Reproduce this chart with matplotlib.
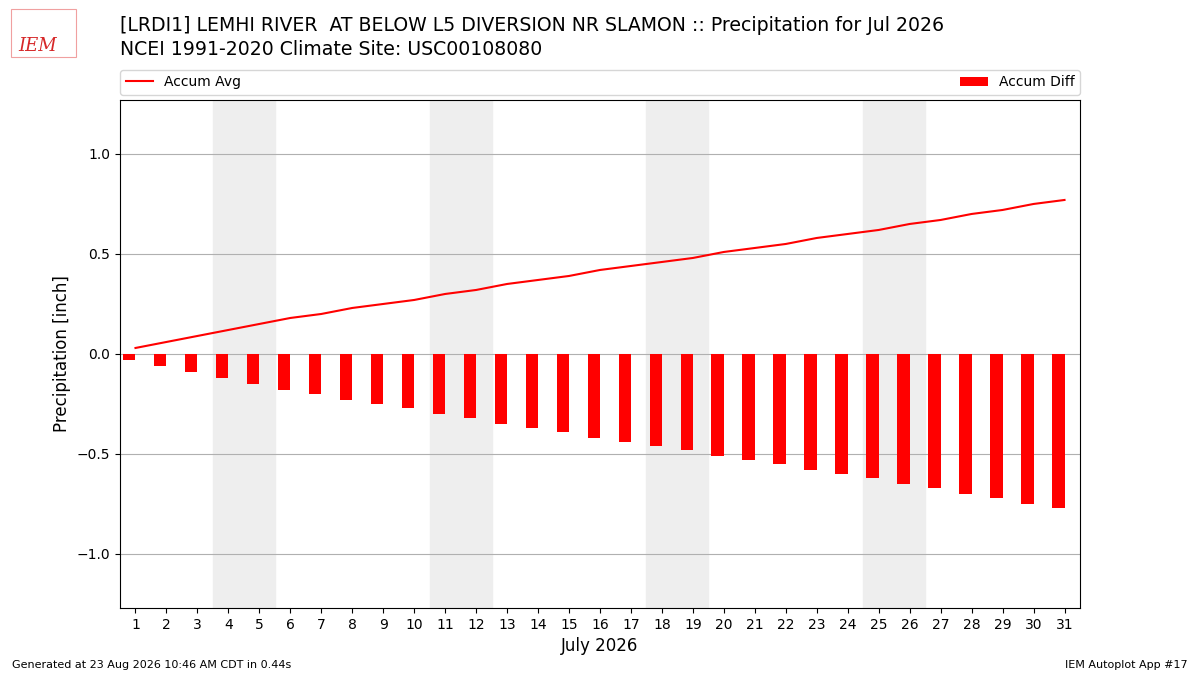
import numpy as np
import matplotlib.pyplot as plt

days = list(range(1, 32))
accum_avg = [0.03, 0.06, 0.09, 0.12, 0.15, 0.18, 0.20, 0.23, 0.25, 0.27,
             0.30, 0.32, 0.35, 0.37, 0.39, 0.42, 0.44, 0.46, 0.48, 0.51,
             0.53, 0.55, 0.58, 0.60, 0.62, 0.65, 0.67, 0.70, 0.72, 0.75, 0.77]
accum_diff = [-v for v in accum_avg]
weekends = [(4, 5), (11, 12), (18, 19), (25, 26)]

fig = plt.figure(figsize=(12, 6.75), dpi=100)
ax = fig.add_axes([0.1, 0.0993, 0.8, 0.7526])

for a, b in weekends:
    ax.axvspan(a - 0.5, b + 0.5, color='#eeeeee', zorder=0)

ax.bar(days, accum_diff, width=-0.4, align='edge', color='r',
       label='Accum Diff', zorder=3)
ax.plot(days, accum_avg, color='r', lw=1.5, label='Accum Avg', zorder=4)

ax.set_xlim(0.5, 31.5)
ax.set_ylim(-1.27, 1.27)
ax.set_xticks(days)
ax.set_yticks([-1.0, -0.5, 0.0, 0.5, 1.0])
ax.grid(axis='y', color='#b0b0b0', lw=0.8, zorder=1)
ax.set_axisbelow(True)
ax.set_xlabel('July 2026', fontsize=12)
ax.set_ylabel('Precipitation [inch]', fontsize=12)
ax.legend(bbox_to_anchor=(0, 1.01, 1, 0.05), loc='lower left', ncol=2,
          mode='expand', borderaxespad=0, fontsize=10)

fig.text(0.1, 0.962, '[LRDI1] LEMHI RIVER  AT BELOW L5 DIVERSION NR SLAMON :: '
         'Precipitation for Jul 2026', fontsize=13.6, va='center')
fig.text(0.1, 0.927, 'NCEI 1991-2020 Climate Site: USC00108080',
         fontsize=13.6, va='center')

# rough stand-in for the IEM logo
fig.text(0.031, 0.932, 'IEM', color='#d62728', fontsize=13, family='serif',
         style='italic', va='center', ha='center')
fig.patches.append(plt.Rectangle((0.009, 0.915), 0.054, 0.072,
                                 transform=fig.transFigure, fill=False,
                                 ec='#f0a0a0', lw=0.8))

fig.text(0.01, 0.015, 'Generated at 23 Aug 2026 10:46 AM CDT in 0.44s',
         fontsize=8, va='center')
fig.text(0.99, 0.015, 'IEM Autoplot App #17', fontsize=8, va='center',
         ha='right')

fig.savefig('out.png', dpi=100)
